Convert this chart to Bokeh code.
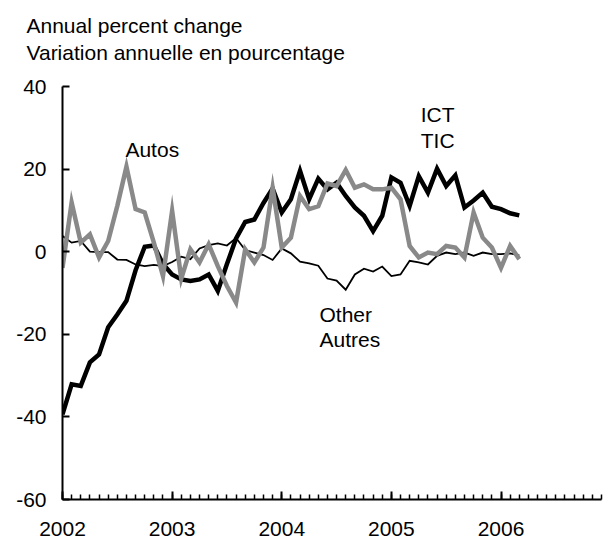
from bokeh.plotting import figure
from bokeh.models import Range1d, FixedTicker, Label, Title
from bokeh.embed import file_html
from bokeh.resources import INLINE

# Monthly observations, Jan 2002 - Mar 2006
months = [f"{y}-{m:02d}" for y in range(2002, 2007) for m in range(1, 13)][:51]

ict = [-39.4, -32.1, -32.5, -26.8, -24.9, -18.3, -15.2, -11.9, -4.5, 1.2,
       1.5, -3.0, -5.5, -6.7, -7.1, -6.7, -5.5, -9.5, -3.0, 3.2,
       7.2, 7.8, 11.8, 15.3, 9.5, 12.7, 19.6, 12.7, 17.7, 15.1,
       16.7, 13.5, 10.7, 8.7, 5.0, 8.7, 18.0, 16.7, 11.1, 18.3,
       14.3, 20.1, 15.9, 18.5, 10.7, 12.4, 14.3, 10.9, 10.3, 9.3,
       8.8]

autos = [-3.9, 11.9, 2.2, 4.2, -1.4, 2.6, 11.1, 20.6, 10.3, 9.5,
         2.2, -5.9, 9.9, -6.5, 0.6, -2.6, 1.8, -3.5, -8.3, -12.3,
         0.6, -2.6, 1.0, 15.5, 1.0, 3.4, 13.5, 10.3, 11.0, 16.5,
         15.9, 19.8, 15.5, 16.3, 15.1, 15.1, 15.5, 12.7, 1.4, -1.4,
         -0.2, -0.6, 1.4, 1.0, -1.4, 9.5, 3.4, 1.0, -3.9, 1.4,
         -1.8]

other = [3.8, 2.2, 2.6, 0.0, -0.1, -0.1, -1.9, -2.0, -3.1, -3.5,
         -3.2, -3.5, -2.5, -1.2, -1.8, 0.8, 1.6, 2.0, 1.5, 3.3,
         0.4, -0.2, -0.8, -2.0, 0.8, -0.4, -2.4, -2.8, -3.4, -6.5,
         -7.0, -9.2, -5.5, -4.1, -4.8, -3.6, -5.9, -5.5, -2.2, -2.6,
         -3.1, -1.0, -0.2, -0.6, -0.2, -1.0, -0.2, -0.6, -0.6, -0.4,
         -0.9]

year_ticks = [2002, 2003, 2004, 2005, 2006]
y_ticks = [-60, -40, -20, 0, 20, 40]

x = [int(s[:4]) + (int(s[5:]) - 1) / 12 for s in months]
month_ticks = [2002 + i / 12 for i in range(60)]

FONT = "Liberation Sans"
FS = "21px"

# frame extends a little above 40 (white space); the axis itself stops at 40
p = figure(width=605, height=540, output_backend="svg", toolbar_location=None,
           x_range=Range1d(2002, 2002 + 59 / 12), y_range=Range1d(-60, 45.33),
           min_border_left=62, min_border_right=4, min_border_top=64,
           min_border_bottom=41)
p.grid.visible = False
p.outline_line_color = None
p.background_fill_color = "white"
p.border_fill_color = "white"

# two-line heading (first added sits closest to the plot)
p.add_layout(Title(text="Variation annuelle en pourcentage", align="left", offset=-36,
                   standoff=2, text_font=FONT, text_font_size=FS,
                   text_font_style="normal", text_color="black"), "above")
p.add_layout(Title(text="Annual percent change", align="left", offset=-36,
                   standoff=2, text_font=FONT, text_font_size=FS,
                   text_font_style="normal", text_color="black"), "above")

p.xaxis.ticker = FixedTicker(ticks=year_ticks, minor_ticks=month_ticks)
p.xaxis.major_label_overrides = {t: str(t) for t in year_ticks}
p.yaxis.ticker = FixedTicker(ticks=y_ticks)
p.yaxis.major_label_overrides = {t: str(t) for t in y_ticks}
p.yaxis.bounds = (-60, 40)

for ax in (p.xaxis[0], p.yaxis[0]):
    ax.axis_line_color = "black"
    ax.axis_line_width = 2
    ax.major_tick_line_color = "black"
    ax.major_tick_line_width = 2
    ax.major_tick_out = 0
    ax.minor_tick_out = 0
    ax.major_label_text_font = FONT
    ax.major_label_text_font_size = FS
    ax.major_label_text_color = "black"

p.xaxis.major_tick_in = 8
p.xaxis.minor_tick_in = 5
p.xaxis.minor_tick_line_color = "black"
p.xaxis.minor_tick_line_width = 1.5
p.xaxis.major_label_standoff = 22
p.yaxis.major_tick_in = 7
p.yaxis.minor_tick_line_color = None
p.yaxis.major_label_standoff = 16

p.line(x, other, line_color="black", line_width=1.8, line_join="miter")
p.line(x, ict, line_color="black", line_width=4.5, line_join="miter")
p.line(x, autos, line_color="#898989", line_width=4.5, line_join="miter")

labels = [
    ("Autos", 2002.819, 24.8, "center"),
    ("ICT", 2005.422, 33.3, "center"),
    ("TIC", 2005.422, 27.0, "center"),
    ("Other", 2004.344, -15.2, "left"),
    ("Autres", 2004.344, -21.2, "left"),
]
for txt, lx, ly, al in labels:
    p.add_layout(Label(x=lx, y=ly, text=txt, text_align=al, text_baseline="middle",
                       text_font=FONT, text_font_size=FS, text_color="black"))

open("out.html", "w").write(file_html(p, INLINE))
